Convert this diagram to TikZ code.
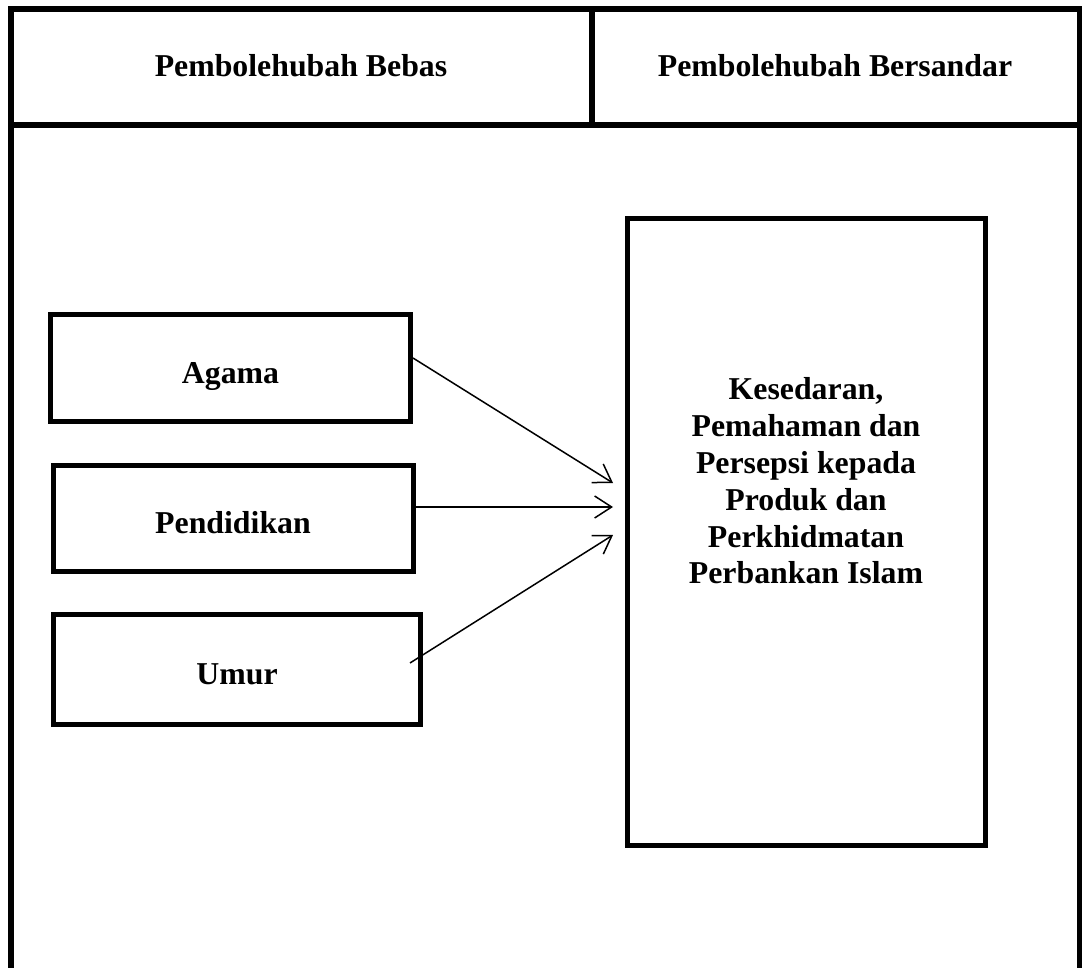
\documentclass[tikz,border=0pt]{standalone}
\usepackage{fontspec}
\setmainfont{Liberation Serif}
\usetikzlibrary{arrows.meta}

\begin{document}
\begin{tikzpicture}[
    x=0.5pt, y=-0.5pt,
    font=\fontsize{15.9}{18.4}\selectfont\bfseries,
    frame/.style={line width=3pt},
    var/.style={draw, line width=2.5pt, minimum width=#1, text height=15pt, text depth=0pt, inner sep=0pt},
    arr/.style={->, line width=0.75pt, >={Straight Barb[length=8.5pt, width=11pt]}}
]
\useasboundingbox (0,0) rectangle (1082,968);

% outer frame and header
\draw[frame] (11,980) -- (11,9) -- (1079.5,9) -- (1079.5,980);
\draw[frame] (11,125) -- (1079.5,125);
\draw[frame] (592,9) -- (592,125);
\node[anchor=base] (hbebas) at (301,77) {Pembolehubah Bebas};
\node[anchor=base] (hsandar) at (835,77) {Pembolehubah Bersandar};

% independent variables
\node[var=180pt, minimum height=53.5pt] (agama) at (230.5,368) {Agama};
\node[var=180pt, minimum height=53pt] (didik) at (233,518) {Pendidikan};
\node[var=183.5pt, minimum height=55pt] (umur) at (237,669) {Umur};

% dependent variable
\node[draw, line width=2.5pt, minimum width=179.25pt, minimum height=313pt] (sandar) at (806.25,532) {};
\node[align=center] (sandartext) at (806,481) {Kesedaran,\\Pemahaman dan\\Persepsi kepada\\Produk dan\\Perkhidmatan\\Perbankan Islam};

\coordinate (inA) at (613,483);
\coordinate (inB) at (613,507);
\coordinate (inC) at (613,535);

\draw[arr] ([yshift=5pt]agama.east) -- (inA);
\draw[arr] ([yshift=5.5pt]didik.east) -- (inB);
\draw[arr] ([xshift=-6.5pt,yshift=3pt]umur.east) -- (inC);
\end{tikzpicture}
\end{document}
